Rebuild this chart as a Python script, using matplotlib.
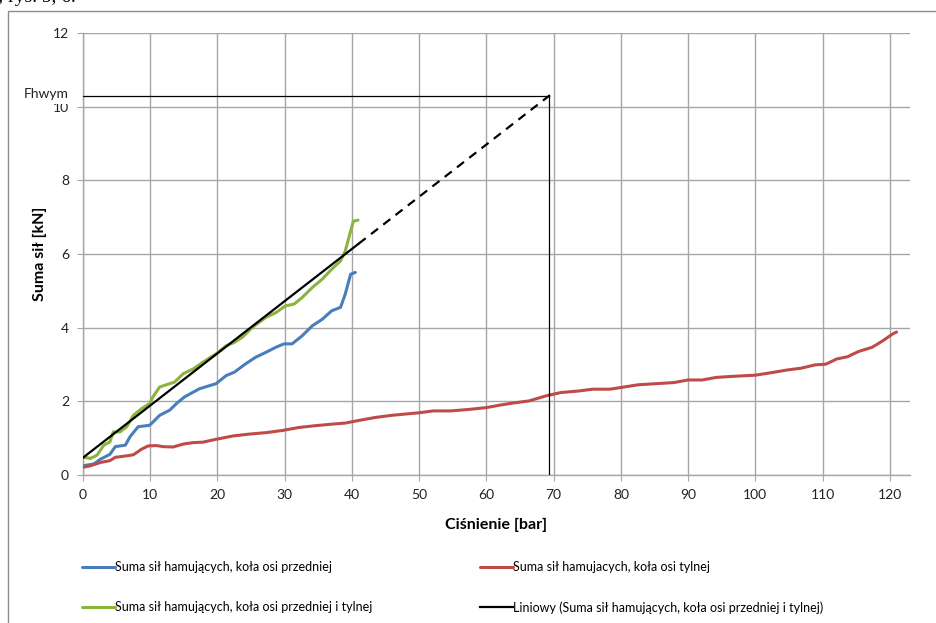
import numpy as np
import matplotlib
matplotlib.use("Agg")
import matplotlib.pyplot as plt
from matplotlib.patches import Rectangle

plt.rcParams['font.family'] = ['Lato', 'DejaVu Sans']

# front axle (blue)
front_x = [0.0, 1.6, 2.6, 4.0, 4.8, 6.3, 7.0, 8.2, 9.9, 10.2, 11.4, 12.9, 13.9, 15.1,
           17.3, 19.8, 21.3, 22.5, 24.2, 25.7, 27.2, 28.7, 29.9, 31.1, 32.6, 34.1,
           35.6, 37.0, 38.3, 39.0, 39.8, 40.5]
front_y = [0.25, 0.30, 0.43, 0.56, 0.77, 0.81, 1.04, 1.31, 1.35, 1.40, 1.62, 1.76, 1.94, 2.12,
           2.34, 2.48, 2.70, 2.79, 3.02, 3.20, 3.33, 3.47, 3.56, 3.56, 3.78, 4.05,
           4.23, 4.46, 4.55, 4.91, 5.45, 5.50]

# front + rear axle (green)
both_x = [0.2, 1.1, 2.1, 3.1, 4.0, 4.5, 5.5, 6.5, 7.5, 8.7, 9.9, 10.4, 11.4, 12.9, 13.6,
          14.9, 16.4, 17.8, 19.8, 21.3, 22.5, 23.7, 25.2, 27.2, 28.7, 30.1, 31.4, 32.6,
          34.1, 35.6, 37.0, 38.3, 39.0, 39.8, 40.2, 40.9]
both_y = [0.48, 0.45, 0.54, 0.81, 0.90, 1.17, 1.17, 1.31, 1.62, 1.80, 1.94, 2.12, 2.39, 2.48, 2.52,
          2.75, 2.88, 3.06, 3.29, 3.51, 3.60, 3.74, 4.01, 4.28, 4.41, 4.59, 4.64, 4.82,
          5.09, 5.32, 5.59, 5.81, 6.08, 6.62, 6.89, 6.92]

# rear axle (red)
rear_x = [0.0, 1.1, 2.6, 4.0, 4.8, 6.5, 7.5, 8.7, 9.7, 10.9, 11.9, 13.4, 14.9, 16.4, 17.8,
          19.8, 22.3, 24.7, 27.2, 29.7, 32.1, 34.6, 37.0, 39.0, 41.0, 43.4, 45.9,
          50.0, 52.1, 54.7, 57.4, 60.0, 62.1, 64.2, 66.3, 68.9, 71.1, 73.7, 75.8, 78.4,
          80.5, 82.6, 85.3, 87.9, 90.0, 92.1, 94.2, 96.8, 100.0, 102.1, 104.7, 106.8,
          108.9, 110.5, 112.1, 113.7, 115.3, 117.4, 119.0, 120.5, 121.0]
rear_y = [0.21, 0.25, 0.34, 0.39, 0.48, 0.52, 0.55, 0.70, 0.79, 0.80, 0.77, 0.76, 0.84, 0.88, 0.89,
          0.97, 1.06, 1.11, 1.15, 1.21, 1.29, 1.34, 1.38, 1.41, 1.48, 1.56, 1.62,
          1.69, 1.74, 1.74, 1.78, 1.83, 1.90, 1.96, 2.01, 2.15, 2.24, 2.28, 2.33, 2.33,
          2.39, 2.45, 2.48, 2.51, 2.58, 2.58, 2.65, 2.68, 2.71, 2.77, 2.85, 2.90,
          2.99, 3.01, 3.15, 3.21, 3.35, 3.47, 3.65, 3.84, 3.88]

# linear trend of green series (solid part, then dashed forecast)
trend_x = [0.0, 41.0]
trend_y = [0.47, 6.28]
forecast_x = [41.0, 70.0]
forecast_y = [6.28, 10.39]

# Fhwym reading
fh_x = 69.3
fh_y = 10.28

legend_labels = ['Suma sił hamujących, koła osi przedniej',
                 'Suma sił hamujących, koła osi przedniej i tylnej',
                 'Suma sił hamujacych, koła osi tylnej',
                 'Liniowy (Suma sił hamujących, koła osi przedniej i tylnej)']

W, H = 936, 623
fig = plt.figure(figsize=(W / 100, H / 100), dpi=100)
ax = fig.add_axes([83 / W, 1 - 475 / H, (910 - 83) / W, (475 - 33) / H])

grid_c = '#a6a6a6'
l1, = ax.plot(front_x, front_y, color='#4a7ebb', lw=2.2, solid_capstyle='round', zorder=4)
l2, = ax.plot(both_x, both_y, color='#8cb33e', lw=2.2, solid_capstyle='round', zorder=4)
l3, = ax.plot(rear_x, rear_y, color='#be4b48', lw=2.2, solid_capstyle='round', zorder=4)
l4, = ax.plot(trend_x, trend_y, color='black', lw=1.6, zorder=5)
ax.plot(forecast_x, forecast_y, color='black', lw=1.6, ls=(0, (4, 3)), zorder=5)

ax.plot([0, fh_x], [fh_y, fh_y], color='black', lw=0.9, zorder=5)
ax.plot([fh_x, fh_x], [0, fh_y], color='black', lw=0.9, zorder=5)

ax.set_xlim(0, 123)
ax.set_ylim(0, 12)
ax.set_xticks(np.arange(0, 121, 10))
ax.set_yticks(np.arange(0, 13, 2))
ax.grid(True, color=grid_c, lw=1.0)
ax.set_axisbelow(True)
for s in ['top', 'right']:
    ax.spines[s].set_visible(False)
for s in ['left', 'bottom']:
    ax.spines[s].set_color(grid_c)
    ax.spines[s].set_linewidth(1.0)
ax.tick_params(length=4, color=grid_c, labelsize=10, labelcolor='#222222', pad=6)

ax.set_xlabel('Ciśnienie [bar]', fontsize=11.5, fontweight='bold', labelpad=12)
ax.set_ylabel('Suma sił [kN]', fontsize=11.5, fontweight='bold', labelpad=4)

fig.text(46 / W, 1 - 94 / H, 'Fhwym', ha='center', va='center', fontsize=10, color='#222222',
         bbox=dict(fc='white', ec='none', pad=3), zorder=10)

# outer frame of the chart object
fig.patches.append(Rectangle((8 / W, -0.1), 2, 1.1 - 11 / H,
                             transform=fig.transFigure, fill=False, ec='#8c8c8c', lw=1.0))

# caption text of the page above, clipped by the top edge as in the source
fig.text(-2 / W, 1 + 3 / H, '; rys. 5, 6.', ha='left', va='center',
         fontsize=14, family=['Liberation Serif', 'DejaVu Serif'])

leg_kw = dict(loc='upper left', frameon=False,
              prop={'size': 9}, handlelength=2.6, handletextpad=0.05,
              labelspacing=2.25, borderpad=0, borderaxespad=0)
leg1 = fig.legend([l1, l2], legend_labels[:2], bbox_to_anchor=(82 / W, 1 - 561 / H), **leg_kw)
fig.legend([l3, l4], legend_labels[2:], bbox_to_anchor=(480 / W, 1 - 561 / H), **leg_kw)

fig.savefig('out.png', dpi=100)
